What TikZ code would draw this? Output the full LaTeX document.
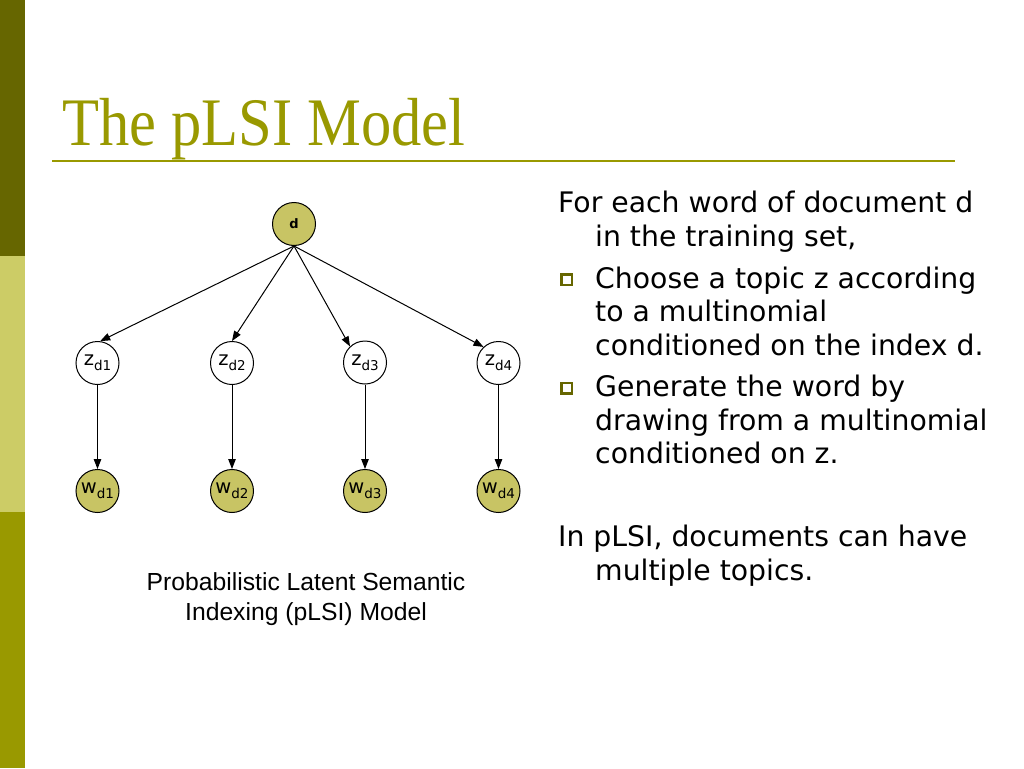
\documentclass[tikz,border=0pt]{standalone}
\usepackage{fontspec}
\usepackage{graphicx}
\usetikzlibrary{arrows.meta}
\newfontfamily\verdfont{DejaVu Sans}
\newfontfamily\arialfont{Liberation Sans}
\newfontfamily\titlefont{Liberation Serif}
\definecolor{olivedark}{HTML}{666600}
\definecolor{olivelight}{HTML}{CCCC66}
\definecolor{olivemid}{HTML}{999900}
\definecolor{nodefill}{HTML}{C8C464}
\newcommand{\lowidx}[1]{\raisebox{-5pt}{\fontsize{13.5}{13.5}\selectfont #1}}

\begin{document}
\begin{tikzpicture}[x=1pt,y=-1pt,
   obs/.style={circle,draw=black,line width=1pt,fill=nodefill,minimum size=43pt,inner sep=0pt,font=\verdfont\fontsize{19.5}{19.5}\selectfont},
   hid/.style={obs,fill=white},
   link/.style={-{Triangle[length=10pt,width=7.5pt]},line width=1pt},
   para/.style={anchor=base west,inner sep=0pt,font=\verdfont\fontsize{28.3}{33.5}\selectfont},
   bullet/.style={draw=olivedark,line width=2.5pt,minimum size=10.5pt,inner sep=0pt}]
      \useasboundingbox (0,0) rectangle (1024,768);
      \fill[white] (0,0) rectangle (1024,768);
      \fill[olivedark] (0,0) rectangle (25,256);
      \fill[olivelight] (0,256) rectangle (25,512);
      \fill[olivemid] (0,512) rectangle (25,768);

      \node[anchor=base west,inner sep=0pt,text=olivemid] (title) at (62,145) {\scalebox{0.89}[1]{\titlefont\fontsize{68}{68}\selectfont The pLSI Model}};
      \draw[olivemid,line width=2pt] (52,161) -- (955,161);

      \node[obs,font=\verdfont\bfseries\fontsize{13}{13}\selectfont] (d) at (294,224) {d};
      \node[hid] (z1) at (97.5,363) {z\lowidx{d1}};
      \node[hid] (z2) at (232,363) {z\lowidx{d2}};
      \node[hid] (z3) at (365,362.5) {z\lowidx{d3}};
      \node[hid] (z4) at (498.5,363) {z\lowidx{d4}};
      \node[obs] (w1) at (97.5,491) {w\lowidx{d1}};
      \node[obs] (w2) at (232,491) {w\lowidx{d2}};
      \node[obs] (w3) at (365,491) {w\lowidx{d3}};
      \node[obs] (w4) at (498.5,491) {w\lowidx{d4}};

      \draw[link] (d.south) -- (z1.83);
      \draw[link] (d.south) -- (z2.north);
      \draw[link] (d.south) -- (z3.133);
      \draw[link] (d.south) -- (z4.133);
      \draw[link] (z1) -- (w1);
      \draw[link] (z2) -- (w2);
      \draw[link] (z3) -- (w3);
      \draw[link] (z4) -- (w4);

      \node[anchor=base,inner sep=0pt,font=\arialfont\fontsize{24.7}{30}\selectfont] (caption) at (306,590) {\parbox[t]{420pt}{\centering Probabilistic Latent Semantic\\Indexing (pLSI) Model}};

      \node[para] (intro) at (558,212.7) {\parbox[t]{460pt}{\hangindent=37pt\hangafter=1 For each word of document d\\in the training set,}};
      \node[bullet] (b1) at (566.5,279.8) {};
      \node[para] (item1) at (595,288.3) {\parbox[t]{420pt}{Choose a topic z according\\to a multinomial\\conditioned on the index d.}};
      \node[bullet] (b2) at (566.5,388.2) {};
      \node[para] (item2) at (595,396.7) {\parbox[t]{420pt}{Generate the word by\\drawing from a multinomial\\conditioned on z.}};
      \node[para] (note) at (558,546.7) {\parbox[t]{460pt}{\hangindent=37pt\hangafter=1 In pLSI, documents can have\\multiple topics.}};
   \end{tikzpicture}
\end{document}
